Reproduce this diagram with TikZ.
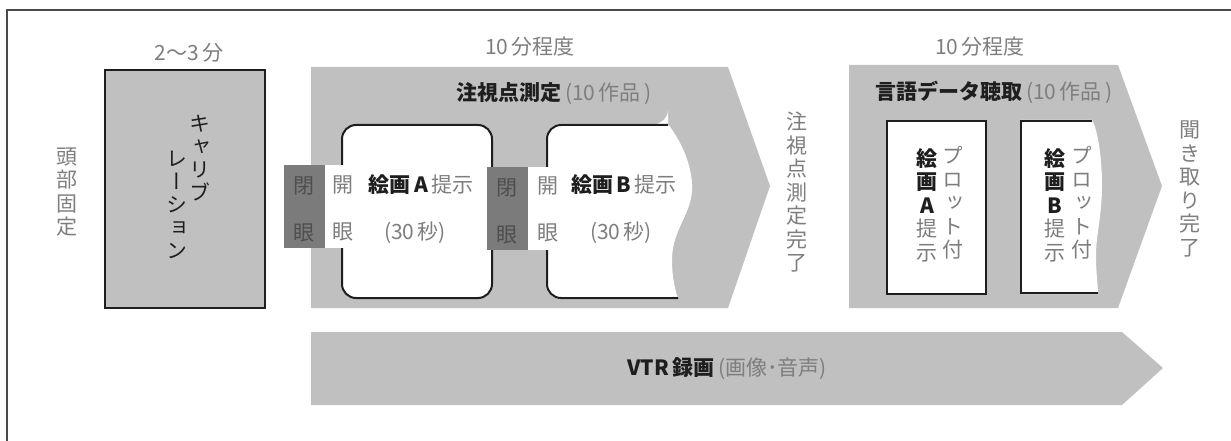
\documentclass[tikz,border=0pt]{standalone}
\usepackage{fontspec}
\setmainfont{Noto Sans CJK JP}
\newfontfamily\vfont{Noto Sans CJK JP}[RawFeature=+vert]
\definecolor{arrowgray}{HTML}{BFC0BF}
\definecolor{eyegray}{HTML}{7B7B7B}
\definecolor{eyetext}{HTML}{4E4E4E}
\definecolor{txtgray}{HTML}{7E7E7E}
\definecolor{txtdark}{HTML}{1E1E1E}
\definecolor{framegray}{HTML}{4A4A4A}
\newcommand{\bk}[1]{{\bfseries\color{txtdark}#1}}
\tikzset{
  lbl/.style={inner sep=0pt, text=txtgray, font=\fontsize{21}{24}\selectfont},
  vlbl/.style={inner sep=0pt, align=center, text=txtgray, font=\vfont\fontsize{21}{23.5}\selectfont},
  eyelbl/.style={inner sep=0pt, text=eyetext, font=\fontsize{21}{24}\selectfont},
  openlbl/.style={inner sep=0pt, text=txtgray, font=\fontsize{21}{24}\selectfont},
  boxline/.style={draw=txtdark, line width=2pt},
  arrowshape/.style={fill=arrowgray},
}
\begin{document}
\begin{tikzpicture}[x=1pt,y=-1pt]
\useasboundingbox (0,0) rectangle (1231,441);
% frame
\draw[framegray, line width=2pt] (7,441) -- (7,10) -- (1231,10);

% calibration
\draw[boxline, fill=arrowgray] (105,70) rectangle (265,308);
\node[lbl] (t23) at (189,53) {2～3\,分};
\node[vlbl] (head) at (67,192) {頭\\部\\固\\定};
\node[vlbl, text=txtdark, font=\vfont\fontsize{21}{23}\selectfont] (cal1) at (200,158) {キ\\ャ\\リ\\ブ};
\node[vlbl, text=txtdark, font=\vfont\fontsize{21}{23}\selectfont] (cal2) at (177,205) {レ\\ー\\シ\\ョ\\ン};

% big arrows
\fill[arrowshape] (311,67) -- (728,67) -- (770,186) -- (728,308) -- (311,308) -- cycle;
\fill[arrowshape] (849,65) -- (1118,65) -- (1162,186) -- (1118,308) -- (849,308) -- cycle;
\fill[arrowshape] (311,332) -- (1122,332) -- (1163,368) -- (1122,405) -- (311,405) -- cycle;

% box A (rounded)
\draw[boxline, fill=white, rounded corners=14pt] (342,125) rectangle (492,298);
% box B (wavy right edge)
\fill[white] (668,124) .. controls (684,145) and (693,170) .. (692,190)
  .. controls (691,215) and (672,230) .. (672,260)
  .. controls (672,280) and (676,292) .. (678,299)
  [rounded corners=14pt] -- (547,299) -- (547,124) -- (668,124) [sharp corners] -- cycle;
\draw[boxline, rounded corners=14pt] (668,125) -- (547,125) -- (547,298) -- (678,298);

% eye patches
\fill[white] (324,165) rectangle (346,248);
\fill[eyegray] (284,165) rectangle (325,248);
\fill[white] (528,167) rectangle (551,250);
\fill[eyegray] (487,167) rectangle (528,250);

\node[eyelbl] (c1a) at (304,186) {閉};
\node[eyelbl] (c1b) at (304,233) {眼};
\node[openlbl] (o1a) at (343,185) {開};
\node[openlbl] (o1b) at (343,232) {眼};
\node[eyelbl] (c2a) at (507,188) {閉};
\node[eyelbl] (c2b) at (507,235) {眼};
\node[openlbl] (o2a) at (548,186) {開};
\node[openlbl] (o2b) at (548,233) {眼};

\node[lbl] (pa) at (421,185) {\bk{絵画\,A}\,提示};
\node[lbl] (sa) at (415,233) {(30\,秒)};
\node[lbl] (pb) at (624,185) {\bk{絵画\,B}\,提示};
\node[lbl] (sb) at (621,233) {(30\,秒)};

\node[lbl] (title1) at (554,94) {\bk{注視点測定}\,(10\,作品\,)};
\node[lbl] (time1) at (530,47) {10\,分程度};
\node[vlbl] (done1) at (797,192) {注\\視\\点\\測\\定\\完\\了};

% second stage boxes
\draw[boxline, fill=white] (887,121) rectangle (986,294);
\fill[white] (1092,120) .. controls (1098,130) and (1102,160) .. (1102,185)
  .. controls (1102,215) and (1096,235) .. (1096,255)
  .. controls (1096,275) and (1098,285) .. (1098,294) -- (1021,294) -- (1021,120) -- cycle;
\draw[boxline] (1092,121) -- (1021,121) -- (1021,293) -- (1098,293);

\node[lbl] (title2) at (994,92) {\bk{言語データ聴取}\,(10\,作品\,)};
\node[lbl] (time2) at (980,47) {10\,分程度};
\node[vlbl] (pa2) at (927,205) {\bk{絵}\\\bk{画}\\\bk{A}\\提\\示};
\node[vlbl] (pl2) at (953,203) {プ\\ロ\\ッ\\ト\\付};
\node[vlbl] (pb2) at (1055,205) {\bk{絵}\\\bk{画}\\\bk{B}\\提\\示};
\node[vlbl] (plb2) at (1082,203) {プ\\ロ\\ッ\\ト\\付};
\node[vlbl] (done2) at (1190,189) {聞\\き\\取\\り\\完\\了};

% VTR
\node[lbl] (vtr) at (727,369) {\bk{VTR\,録画}\,(画像･音声)};
\end{tikzpicture}
\end{document}
